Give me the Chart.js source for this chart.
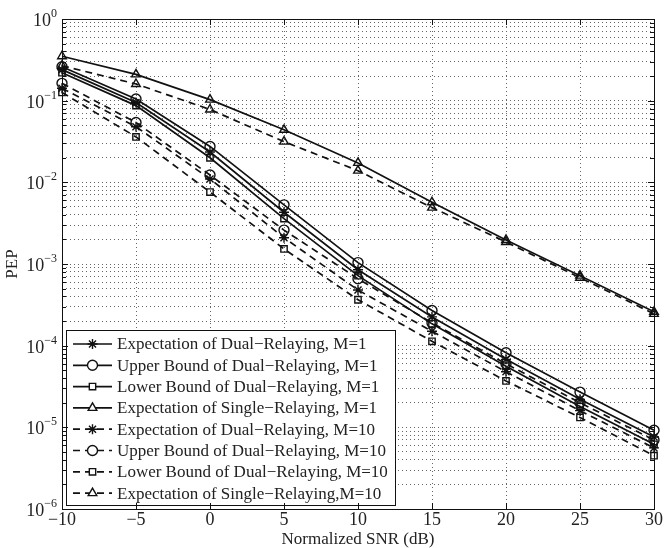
<!DOCTYPE html>
<html>
<head>
<meta charset="utf-8">
<script src="https://cdn.jsdelivr.net/npm/chart.js@4"></script>
<style>
  html, body { margin: 0; padding: 0; background: #fff; }
  #wrap { width: 665px; height: 548px; }
</style>
</head>
<body>
<div id="wrap"><canvas id="pep"></canvas></div>
<script>
// normalized SNR (dB)
let snr = [-10, -5, 0, 5, 10, 15, 20, 25, 30];

// PEP curves
let expDualM1 = [0.24, 0.095, 0.0235, 0.0043, 0.00085, 0.000225, 6.8e-5, 2.2e-5, 7.6e-6];
let upperDualM1 = [0.26, 0.105, 0.0275, 0.0053, 0.00104, 0.00027, 8.2e-5, 2.7e-5, 9.2e-6];
let lowerDualM1 = [0.22, 0.087, 0.02, 0.0036, 0.00072, 0.000185, 5.6e-5, 1.8e-5, 6.2e-6];
let expSingleM1 = [0.35, 0.21, 0.103, 0.044, 0.0173, 0.0057, 0.00197, 0.00072, 0.00026];
let expDualM10 = [0.142, 0.048, 0.011, 0.0021, 0.00048, 0.00015, 4.8e-5, 1.6e-5, 5.6e-6];
let upperDualM10 = [0.163, 0.054, 0.0123, 0.0026, 0.00066, 0.00019, 6.0e-5, 2.0e-5, 7.0e-6];
let lowerDualM10 = [0.126, 0.036, 0.0076, 0.00153, 0.000365, 0.000113, 3.7e-5, 1.32e-5, 4.5e-6];
let expSingleM10 = [0.268, 0.16, 0.078, 0.0315, 0.0139, 0.0049, 0.00186, 0.00068, 0.000245];

let seriesNames = [
  "Expectation of Dual\u2212Relaying, M=1",
  "Upper Bound of Dual\u2212Relaying, M=1",
  "Lower Bound of Dual\u2212Relaying, M=1",
  "Expectation of Single\u2212Relaying, M=1",
  "Expectation of Dual\u2212Relaying, M=10",
  "Upper Bound of Dual\u2212Relaying, M=10",
  "Lower Bound of Dual\u2212Relaying, M=10",
  "Expectation of Single\u2212Relaying,M=10"
];
let seriesData = [expDualM1, upperDualM1, lowerDualM1, expSingleM1,
                  expDualM10, upperDualM10, lowerDualM10, expSingleM10];
let markers = ["star", "circle", "rect", "triangle", "star", "circle", "rect", "triangle"];

const FONT = "'Liberation Serif', 'Times New Roman', serif";

let datasets = seriesData.map((arr, i) => ({
  label: seriesNames[i],
  data: arr.map((v, j) => ({x: snr[j], y: v})),
  borderColor: "#111",
  borderWidth: 1.7,
  borderDash: i < 4 ? [] : [7, 5],
  pointStyle: markers[i],
  pointRadius: markers[i] === "rect" ? 4.5 : 5,
  pointBorderWidth: 1.4,
  pointBorderColor: "#111",
  pointBackgroundColor: "rgba(0,0,0,0)",
  lineTension: 0,
  fill: false,
  clip: false
}));

function isDecade(v) {
  let e = Math.log10(v);
  return Math.abs(e - Math.round(e)) < 1e-9;
}

// frame, inward tick marks and 10^n labels like the original figure
const framePlugin = {
  id: "frame",
  afterDraw(chart) {
    const {ctx, chartArea: a, scales} = chart;
    ctx.save();
    ctx.strokeStyle = "#111";
    ctx.lineWidth = 1;
    ctx.setLineDash([]);
    ctx.strokeRect(a.left + 0.5, a.top + 0.5, a.right - a.left, a.bottom - a.top);
    ctx.beginPath();
    scales.y.ticks.forEach(t => {
      let py = Math.round(scales.y.getPixelForValue(t.value)) + 0.5;
      let len = isDecade(t.value) ? 6 : 4;
      ctx.moveTo(a.left, py); ctx.lineTo(a.left + len, py);
      ctx.moveTo(a.right, py); ctx.lineTo(a.right - len, py);
    });
    scales.x.ticks.forEach(t => {
      let px = Math.round(scales.x.getPixelForValue(t.value)) + 0.5;
      ctx.moveTo(px, a.bottom); ctx.lineTo(px, a.bottom - 6);
      ctx.moveTo(px, a.top); ctx.lineTo(px, a.top + 6);
    });
    ctx.stroke();

    // y labels: "10" with a raised exponent
    ctx.fillStyle = "#222";
    ctx.textBaseline = "alphabetic";
    scales.y.ticks.forEach(t => {
      if (!isDecade(t.value)) return;
      let e = Math.round(Math.log10(t.value));
      let expText = e < 0 ? "\u2212" + Math.abs(e) : String(e);
      let py = scales.y.getPixelForValue(t.value);
      ctx.font = "12px " + FONT;
      let ew = ctx.measureText(expText).width;
      let ex = a.left - 5 - ew;
      ctx.textAlign = "left";
      ctx.fillText(expText, ex, py - 2);
      ctx.font = "18px " + FONT;
      ctx.textAlign = "right";
      ctx.fillText("10", ex, py + 7);
    });
    ctx.restore();
  }
};

function drawMarker(ctx, style, r, x, y) {
  if (Chart.helpers && Chart.helpers.drawPoint) {
    Chart.helpers.drawPoint(ctx, {pointStyle: style, radius: r, rotation: 0, borderWidth: 1.4}, x, y);
  }
}

// legend box drawn inside the plot, lower-left
const legendPlugin = {
  id: "boxLegend",
  afterDatasetsDraw(chart) {
    const {ctx, chartArea: a} = chart;
    const w = 329, h = 175;
    const left = a.left + 4, top = a.bottom - 4 - h;
    ctx.save();
    ctx.fillStyle = "#fff";
    ctx.fillRect(left, top, w, h);
    ctx.strokeStyle = "#111";
    ctx.lineWidth = 1;
    ctx.setLineDash([]);
    ctx.strokeRect(left + 0.5, top + 0.5, w, h);
    ctx.font = "17px " + FONT;
    ctx.textBaseline = "middle";
    chart.data.datasets.forEach((ds, i) => {
      let y = top + 14 + i * 21.3;
      ctx.strokeStyle = "#111";
      ctx.lineWidth = 1.7;
      ctx.setLineDash(ds.borderDash);
      ctx.beginPath();
      ctx.moveTo(left + 7, y);
      ctx.lineTo(left + 46, y);
      ctx.stroke();
      ctx.setLineDash([]);
      ctx.fillStyle = "#fff";
      ctx.lineWidth = 1.4;
      drawMarker(ctx, ds.pointStyle, ds.pointRadius, left + 26.5, y);
      ctx.fillStyle = "#222";
      ctx.fillText(ds.label, left + 51, y + 1);
    });
    ctx.restore();
  }
};

new Chart("pep", {
  type: "line",
  data: { datasets: datasets },
  plugins: [legendPlugin, framePlugin],
  options: {
    responsive: true,
    maintainAspectRatio: false,
    animation: false,
    layout: { padding: { top: 19, right: 10, left: 0, bottom: 0 } },
    plugins: { legend: { display: false }, tooltip: { enabled: false } },
    scales: {
      x: {
        type: "linear",
        min: -10,
        max: 30,
        ticks: {
          stepSize: 5,
          color: "#222",
          padding: 2,
          font: { family: FONT, size: 18, lineHeight: 1 },
          callback: v => (v < 0 ? "\u2212" + Math.abs(v) : String(v))
        },
        grid: { color: "#666", lineWidth: 1, drawTicks: false },
        border: { display: false, dash: [1, 3] },
        title: {
          display: true,
          text: "Normalized SNR (dB)",
          color: "#222",
          font: { family: FONT, size: 17, lineHeight: 1 },
          padding: { top: 0, bottom: 0 }
        },
        afterFit: s => { s.height = 39; }
      },
      y: {
        type: "logarithmic",
        min: 1e-6,
        max: 1,
        afterBuildTicks: s => {
          let t = [];
          for (let e = -6; e < 0; e++) {
            for (let m = 1; m <= 9; m++) t.push({ value: +(m * Math.pow(10, e)).toPrecision(3) });
          }
          t.push({ value: 1 });
          s.ticks = t;
        },
        ticks: { display: false },
        grid: { color: "#666", lineWidth: 1, drawTicks: false },
        border: { display: false, dash: [1, 3] },
        title: {
          display: true,
          text: "PEP",
          color: "#222",
          font: { family: FONT, size: 17 },
          padding: { top: 2, bottom: 0 }
        },
        afterFit: s => { s.width = 62; }
      }
    }
  }
});
</script>
</body>
</html>
